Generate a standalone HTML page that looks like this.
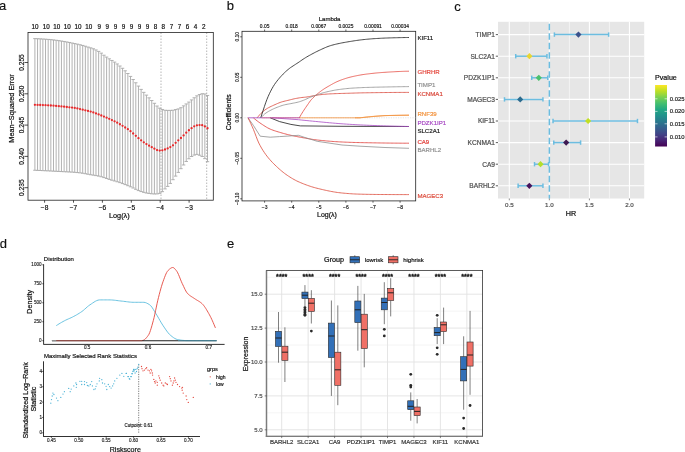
<!DOCTYPE html>
<html><head><meta charset="utf-8"><style>
html,body{margin:0;padding:0;background:#fff;}
body{width:685px;height:452px;overflow:hidden;}
svg{display:block;font-family:"Liberation Sans",sans-serif;will-change:transform;}
</style></head><body>
<svg width="685" height="452" viewBox="0 0 685 452">
<rect width="685" height="452" fill="#fff"/>
<text x="-1" y="10.4" font-size="13" fill="#111" stroke="#111" stroke-width="0.15">a</text>
<text x="226.8" y="10" font-size="13" fill="#111" stroke="#111" stroke-width="0.15">b</text>
<text x="454.2" y="10.5" font-size="13" fill="#111" stroke="#111" stroke-width="0.15">c</text>
<text x="-0.2" y="247.7" font-size="13" fill="#111" stroke="#111" stroke-width="0.15">d</text>
<text x="226.9" y="247.7" font-size="13" fill="#111" stroke="#111" stroke-width="0.15">e</text>
<path d="M34.9 38.62V170.26M33.2 38.62H36.6M33.2 170.26H36.6M37.56 38.71V170.38M35.86 38.71H39.26M35.86 170.38H39.26M40.21 38.84V170.5M38.51 38.84H41.91M38.51 170.5H41.91M42.87 39.01V170.63M41.17 39.01H44.57M41.17 170.63H44.57M45.52 39.2V170.76M43.82 39.2H47.22M43.82 170.76H47.22M48.18 39.41V170.89M46.48 39.41H49.88M46.48 170.89H49.88M50.83 39.64V171.02M49.13 39.64H52.53M49.13 171.02H52.53M53.49 39.91V171.16M51.79 39.91H55.19M51.79 171.16H55.19M56.14 40.25V171.3M54.44 40.25H57.84M54.44 171.3H57.84M58.8 40.63V171.44M57.1 40.63H60.5M57.1 171.44H60.5M61.45 41.04V171.58M59.75 41.04H63.16M59.75 171.58H63.16M64.11 41.47V171.72M62.41 41.47H65.81M62.41 171.72H65.81M66.77 41.95V171.85M65.07 41.95H68.47M65.07 171.85H68.47M69.42 42.48V171.99M67.72 42.48H71.12M67.72 171.99H71.12M72.08 43.03V172.14M70.38 43.03H73.78M70.38 172.14H73.78M74.73 43.58V172.34M73.03 43.58H76.43M73.03 172.34H76.43M77.39 44.14V172.58M75.69 44.14H79.09M75.69 172.58H79.09M80.04 44.74V172.87M78.34 44.74H81.74M78.34 172.87H81.74M82.7 45.43V173.24M81 45.43H84.4M81 173.24H84.4M85.35 46.23V173.73M83.65 46.23H87.05M83.65 173.73H87.05M88.01 47.05V174.26M86.31 47.05H89.71M86.31 174.26H89.71M90.67 47.85V174.74M88.97 47.85H92.37M88.97 174.74H92.37M93.32 48.77V175.17M91.62 48.77H95.02M91.62 175.17H95.02M95.98 49.95V175.61M94.28 49.95H97.68M94.28 175.61H97.68M98.63 51.38V176.11M96.93 51.38H100.33M96.93 176.11H100.33M101.29 53.14V176.76M99.59 53.14H102.99M99.59 176.76H102.99M103.94 55.22V177.58M102.24 55.22H105.64M102.24 177.58H105.64M106.6 57.07V178.49M104.9 57.07H108.3M104.9 178.49H108.3M109.25 58.82V179.4M107.55 58.82H110.95M107.55 179.4H110.95M111.91 60.48V180.22M110.21 60.48H113.61M110.21 180.22H113.61M114.56 62.11V180.99M112.86 62.11H116.27M112.86 180.99H116.27M117.22 63.96V181.78M115.52 63.96H118.92M115.52 181.78H118.92M119.88 66.01V182.62M118.18 66.01H121.58M118.18 182.62H121.58M122.53 68.28V183.57M120.83 68.28H124.23M120.83 183.57H124.23M125.19 70.8V184.6M123.49 70.8H126.89M123.49 184.6H126.89M127.84 73.5V185.69M126.14 73.5H129.54M126.14 185.69H129.54M130.5 76.41V186.81M128.8 76.41H132.2M128.8 186.81H132.2M133.15 79.5V188.03M131.45 79.5H134.85M131.45 188.03H134.85M135.81 82.75V189.34M134.11 82.75H137.51M134.11 189.34H137.51M138.46 86.08V190.58M136.76 86.08H140.16M136.76 190.58H140.16M141.12 89.4V191.57M139.42 89.4H142.82M139.42 191.57H142.82M143.78 92.36V192.37M142.08 92.36H145.48M142.08 192.37H145.48M146.43 95.11V193.03M144.73 95.11H148.13M144.73 193.03H148.13M149.09 97.84V193.45M147.39 97.84H150.79M147.39 193.45H150.79M151.74 100.53V193.79M150.04 100.53H153.44M150.04 193.79H153.44M154.4 103.3V193.99M152.7 103.3H156.1M152.7 193.99H156.1M157.05 106.04V193.92M155.35 106.04H158.75M155.35 193.92H158.75M159.71 108.11V193.35M158.01 108.11H161.41M158.01 193.35H161.41M162.36 109.46V191.65M160.66 109.46H164.06M160.66 191.65H164.06M165.02 110.27V188.91M163.32 110.27H166.72M163.32 188.91H166.72M167.68 110.38V186.4M165.98 110.38H169.38M165.98 186.4H169.38M170.33 110.39V183.42M168.63 110.39H172.03M168.63 183.42H172.03M172.99 110.24V179.7M171.29 110.24H174.69M171.29 179.7H174.69M175.64 109.59V176.12M173.94 109.59H177.34M173.94 176.12H177.34M178.3 108.91V172.41M176.6 108.91H180M176.6 172.41H180M180.95 107.71V168.68M179.25 107.71H182.65M179.25 168.68H182.65M183.61 105.87V164.98M181.91 105.87H185.31M181.91 164.98H185.31M186.26 103.95V161.48M184.56 103.95H187.96M184.56 161.48H187.96M188.92 102.08V158.78M187.22 102.08H190.62M187.22 158.78H190.62M191.57 99.93V156.5M189.87 99.93H193.27M189.87 156.5H193.27M194.23 97.78V155.09M192.53 97.78H195.93M192.53 155.09H195.93M196.89 95.85V154.4M195.19 95.85H198.59M195.19 154.4H198.59M199.54 94.55V155.25M197.84 94.55H201.24M197.84 155.25H201.24M202.2 93.72V156.46M200.5 93.72H203.9M200.5 156.46H203.9M204.85 93.95V158.64M203.15 93.95H206.55M203.15 158.64H206.55M207.51 95.46V161.66M205.81 95.46H209.21M205.81 161.66H209.21" stroke="#a9a9a9" stroke-width="0.9" fill="none"/>
<line x1="161" y1="32.5" x2="161" y2="200.2" stroke="#888" stroke-width="0.6" stroke-dasharray="1.5,1.5"/>
<line x1="206.7" y1="32.5" x2="206.7" y2="200.2" stroke="#888" stroke-width="0.6" stroke-dasharray="1.5,1.5"/>
<g fill="#e8282a"><circle cx="34.9" cy="104.81" r="1.15"/><circle cx="37.56" cy="104.88" r="1.15"/><circle cx="40.21" cy="104.98" r="1.15"/><circle cx="42.87" cy="105.09" r="1.15"/><circle cx="45.52" cy="105.21" r="1.15"/><circle cx="48.18" cy="105.35" r="1.15"/><circle cx="50.83" cy="105.52" r="1.15"/><circle cx="53.49" cy="105.7" r="1.15"/><circle cx="56.14" cy="105.9" r="1.15"/><circle cx="58.8" cy="106.14" r="1.15"/><circle cx="61.45" cy="106.41" r="1.15"/><circle cx="64.11" cy="106.7" r="1.15"/><circle cx="66.77" cy="107" r="1.15"/><circle cx="69.42" cy="107.29" r="1.15"/><circle cx="72.08" cy="107.59" r="1.15"/><circle cx="74.73" cy="107.96" r="1.15"/><circle cx="77.39" cy="108.45" r="1.15"/><circle cx="80.04" cy="109.06" r="1.15"/><circle cx="82.7" cy="109.71" r="1.15"/><circle cx="85.35" cy="110.32" r="1.15"/><circle cx="88.01" cy="110.93" r="1.15"/><circle cx="90.67" cy="111.62" r="1.15"/><circle cx="93.32" cy="112.45" r="1.15"/><circle cx="95.98" cy="113.41" r="1.15"/><circle cx="98.63" cy="114.42" r="1.15"/><circle cx="101.29" cy="115.49" r="1.15"/><circle cx="103.94" cy="116.57" r="1.15"/><circle cx="106.6" cy="117.69" r="1.15"/><circle cx="109.25" cy="118.83" r="1.15"/><circle cx="111.91" cy="120.03" r="1.15"/><circle cx="114.56" cy="121.32" r="1.15"/><circle cx="117.22" cy="122.71" r="1.15"/><circle cx="119.88" cy="124.23" r="1.15"/><circle cx="122.53" cy="125.86" r="1.15"/><circle cx="125.19" cy="127.51" r="1.15"/><circle cx="127.84" cy="129.22" r="1.15"/><circle cx="130.5" cy="131.22" r="1.15"/><circle cx="133.15" cy="133.48" r="1.15"/><circle cx="135.81" cy="135.78" r="1.15"/><circle cx="138.46" cy="138.14" r="1.15"/><circle cx="141.12" cy="140.29" r="1.15"/><circle cx="143.78" cy="142.29" r="1.15"/><circle cx="146.43" cy="144.06" r="1.15"/><circle cx="149.09" cy="145.65" r="1.15"/><circle cx="151.74" cy="147.2" r="1.15"/><circle cx="154.4" cy="148.69" r="1.15"/><circle cx="157.05" cy="150.11" r="1.15"/><circle cx="159.71" cy="150.58" r="1.15"/><circle cx="162.36" cy="150.34" r="1.15"/><circle cx="165.02" cy="149.52" r="1.15"/><circle cx="167.68" cy="148.45" r="1.15"/><circle cx="170.33" cy="147.1" r="1.15"/><circle cx="172.99" cy="145.31" r="1.15"/><circle cx="175.64" cy="142.87" r="1.15"/><circle cx="178.3" cy="140.37" r="1.15"/><circle cx="180.95" cy="138" r="1.15"/><circle cx="183.61" cy="135.4" r="1.15"/><circle cx="186.26" cy="132.71" r="1.15"/><circle cx="188.92" cy="130.26" r="1.15"/><circle cx="191.57" cy="128.19" r="1.15"/><circle cx="194.23" cy="126.31" r="1.15"/><circle cx="196.89" cy="125.28" r="1.15"/><circle cx="199.54" cy="125.05" r="1.15"/><circle cx="202.2" cy="125.15" r="1.15"/><circle cx="204.85" cy="126.39" r="1.15"/><circle cx="207.51" cy="128.27" r="1.15"/></g>
<rect x="28" y="32.5" width="185.3" height="167.7" fill="none" stroke="#222" stroke-width="0.8"/>
<line x1="24.5" y1="62.5" x2="28" y2="62.5" stroke="#222" stroke-width="0.8"/>
<text transform="translate(21.3,62.5) rotate(-90)" text-anchor="middle" dy="0.35em" font-size="6.6" fill="#111" stroke="#111" stroke-width="0.2">0.255</text>
<line x1="24.5" y1="93.8" x2="28" y2="93.8" stroke="#222" stroke-width="0.8"/>
<text transform="translate(21.3,93.8) rotate(-90)" text-anchor="middle" dy="0.35em" font-size="6.6" fill="#111" stroke="#111" stroke-width="0.2">0.250</text>
<line x1="24.5" y1="125.1" x2="28" y2="125.1" stroke="#222" stroke-width="0.8"/>
<text transform="translate(21.3,125.1) rotate(-90)" text-anchor="middle" dy="0.35em" font-size="6.6" fill="#111" stroke="#111" stroke-width="0.2">0.245</text>
<line x1="24.5" y1="156.4" x2="28" y2="156.4" stroke="#222" stroke-width="0.8"/>
<text transform="translate(21.3,156.4) rotate(-90)" text-anchor="middle" dy="0.35em" font-size="6.6" fill="#111" stroke="#111" stroke-width="0.2">0.240</text>
<line x1="24.5" y1="187.7" x2="28" y2="187.7" stroke="#222" stroke-width="0.8"/>
<text transform="translate(21.3,187.7) rotate(-90)" text-anchor="middle" dy="0.35em" font-size="6.6" fill="#111" stroke="#111" stroke-width="0.2">0.235</text>
<line x1="44.6" y1="200.2" x2="44.6" y2="202.7" stroke="#222" stroke-width="0.8"/>
<text x="44.6" y="207.8" text-anchor="middle" dy="0.35em" font-size="6.6" fill="#111" stroke="#111" stroke-width="0.2">−8</text>
<line x1="73.5" y1="200.2" x2="73.5" y2="202.7" stroke="#222" stroke-width="0.8"/>
<text x="73.5" y="207.8" text-anchor="middle" dy="0.35em" font-size="6.6" fill="#111" stroke="#111" stroke-width="0.2">−7</text>
<line x1="102.4" y1="200.2" x2="102.4" y2="202.7" stroke="#222" stroke-width="0.8"/>
<text x="102.4" y="207.8" text-anchor="middle" dy="0.35em" font-size="6.6" fill="#111" stroke="#111" stroke-width="0.2">−6</text>
<line x1="131.3" y1="200.2" x2="131.3" y2="202.7" stroke="#222" stroke-width="0.8"/>
<text x="131.3" y="207.8" text-anchor="middle" dy="0.35em" font-size="6.6" fill="#111" stroke="#111" stroke-width="0.2">−5</text>
<line x1="160.2" y1="200.2" x2="160.2" y2="202.7" stroke="#222" stroke-width="0.8"/>
<text x="160.2" y="207.8" text-anchor="middle" dy="0.35em" font-size="6.6" fill="#111" stroke="#111" stroke-width="0.2">−4</text>
<line x1="189.1" y1="200.2" x2="189.1" y2="202.7" stroke="#222" stroke-width="0.8"/>
<text x="189.1" y="207.8" text-anchor="middle" dy="0.35em" font-size="6.6" fill="#111" stroke="#111" stroke-width="0.2">−3</text>
<text x="119.3" y="215.5" text-anchor="middle" dy="0.35em" font-size="7.3" fill="#111" stroke="#111" stroke-width="0.22">Log(λ)</text>
<text transform="translate(11,108.5) rotate(-90)" text-anchor="middle" dy="0.35em" font-size="7.3" fill="#111" stroke="#111" stroke-width="0.22">Mean−Squared Error</text>
<text x="34.9" y="26.8" text-anchor="middle" dy="0.35em" font-size="6.3" fill="#111" stroke="#111" stroke-width="0.19">10</text>
<text x="46.2" y="26.8" text-anchor="middle" dy="0.35em" font-size="6.3" fill="#111" stroke="#111" stroke-width="0.19">10</text>
<text x="56.8" y="26.8" text-anchor="middle" dy="0.35em" font-size="6.3" fill="#111" stroke="#111" stroke-width="0.19">10</text>
<text x="67.3" y="26.8" text-anchor="middle" dy="0.35em" font-size="6.3" fill="#111" stroke="#111" stroke-width="0.19">10</text>
<text x="78" y="26.8" text-anchor="middle" dy="0.35em" font-size="6.3" fill="#111" stroke="#111" stroke-width="0.19">10</text>
<text x="88.7" y="26.8" text-anchor="middle" dy="0.35em" font-size="6.3" fill="#111" stroke="#111" stroke-width="0.19">10</text>
<text x="99.3" y="26.8" text-anchor="middle" dy="0.35em" font-size="6.3" fill="#111" stroke="#111" stroke-width="0.19">9</text>
<text x="107.3" y="26.8" text-anchor="middle" dy="0.35em" font-size="6.3" fill="#111" stroke="#111" stroke-width="0.19">9</text>
<text x="115.4" y="26.8" text-anchor="middle" dy="0.35em" font-size="6.3" fill="#111" stroke="#111" stroke-width="0.19">9</text>
<text x="123.5" y="26.8" text-anchor="middle" dy="0.35em" font-size="6.3" fill="#111" stroke="#111" stroke-width="0.19">9</text>
<text x="131.5" y="26.8" text-anchor="middle" dy="0.35em" font-size="6.3" fill="#111" stroke="#111" stroke-width="0.19">9</text>
<text x="139.4" y="26.8" text-anchor="middle" dy="0.35em" font-size="6.3" fill="#111" stroke="#111" stroke-width="0.19">9</text>
<text x="147.5" y="26.8" text-anchor="middle" dy="0.35em" font-size="6.3" fill="#111" stroke="#111" stroke-width="0.19">9</text>
<text x="155.4" y="26.8" text-anchor="middle" dy="0.35em" font-size="6.3" fill="#111" stroke="#111" stroke-width="0.19">8</text>
<text x="163.3" y="26.8" text-anchor="middle" dy="0.35em" font-size="6.3" fill="#111" stroke="#111" stroke-width="0.19">8</text>
<text x="171.5" y="26.8" text-anchor="middle" dy="0.35em" font-size="6.3" fill="#111" stroke="#111" stroke-width="0.19">7</text>
<text x="179.5" y="26.8" text-anchor="middle" dy="0.35em" font-size="6.3" fill="#111" stroke="#111" stroke-width="0.19">7</text>
<text x="187.6" y="26.8" text-anchor="middle" dy="0.35em" font-size="6.3" fill="#111" stroke="#111" stroke-width="0.19">6</text>
<text x="195.6" y="26.8" text-anchor="middle" dy="0.35em" font-size="6.3" fill="#111" stroke="#111" stroke-width="0.19">4</text>
<text x="203.8" y="26.8" text-anchor="middle" dy="0.35em" font-size="6.3" fill="#111" stroke="#111" stroke-width="0.19">2</text>
<rect x="242" y="31.3" width="173.7" height="169.6" fill="none" stroke="#222" stroke-width="0.8"/>
<line x1="240.2" y1="36.8" x2="242" y2="36.8" stroke="#222" stroke-width="0.7"/>
<text transform="translate(236.9,36.8) rotate(-90)" text-anchor="middle" dy="0.35em" font-size="4.9" fill="#111" stroke="#111" stroke-width="0.15">0.10</text>
<line x1="240.2" y1="77.3" x2="242" y2="77.3" stroke="#222" stroke-width="0.7"/>
<text transform="translate(236.9,77.3) rotate(-90)" text-anchor="middle" dy="0.35em" font-size="4.9" fill="#111" stroke="#111" stroke-width="0.15">0.05</text>
<line x1="240.2" y1="117.8" x2="242" y2="117.8" stroke="#222" stroke-width="0.7"/>
<text transform="translate(236.9,117.8) rotate(-90)" text-anchor="middle" dy="0.35em" font-size="4.9" fill="#111" stroke="#111" stroke-width="0.15">0.00</text>
<line x1="240.2" y1="158.3" x2="242" y2="158.3" stroke="#222" stroke-width="0.7"/>
<text transform="translate(236.9,158.3) rotate(-90)" text-anchor="middle" dy="0.35em" font-size="4.9" fill="#111" stroke="#111" stroke-width="0.15">−0.05</text>
<line x1="240.2" y1="198.8" x2="242" y2="198.8" stroke="#222" stroke-width="0.7"/>
<text transform="translate(236.9,198.8) rotate(-90)" text-anchor="middle" dy="0.35em" font-size="4.9" fill="#111" stroke="#111" stroke-width="0.15">−0.10</text>
<line x1="264.6" y1="200.9" x2="264.6" y2="202.7" stroke="#222" stroke-width="0.7"/>
<line x1="264.6" y1="29.5" x2="264.6" y2="31.3" stroke="#222" stroke-width="0.7"/>
<text x="264.6" y="207.5" text-anchor="middle" dy="0.35em" font-size="5" fill="#111" stroke="#111" stroke-width="0.15">−3</text>
<text x="264.6" y="26.2" text-anchor="middle" dy="0.35em" font-size="4.9" fill="#111" stroke="#111" stroke-width="0.15">0.05</text>
<line x1="291.7" y1="200.9" x2="291.7" y2="202.7" stroke="#222" stroke-width="0.7"/>
<line x1="291.7" y1="29.5" x2="291.7" y2="31.3" stroke="#222" stroke-width="0.7"/>
<text x="291.7" y="207.5" text-anchor="middle" dy="0.35em" font-size="5" fill="#111" stroke="#111" stroke-width="0.15">−4</text>
<text x="291.7" y="26.2" text-anchor="middle" dy="0.35em" font-size="4.9" fill="#111" stroke="#111" stroke-width="0.15">0.018</text>
<line x1="318.8" y1="200.9" x2="318.8" y2="202.7" stroke="#222" stroke-width="0.7"/>
<line x1="318.8" y1="29.5" x2="318.8" y2="31.3" stroke="#222" stroke-width="0.7"/>
<text x="318.8" y="207.5" text-anchor="middle" dy="0.35em" font-size="5" fill="#111" stroke="#111" stroke-width="0.15">−5</text>
<text x="318.8" y="26.2" text-anchor="middle" dy="0.35em" font-size="4.9" fill="#111" stroke="#111" stroke-width="0.15">0.0067</text>
<line x1="345.9" y1="200.9" x2="345.9" y2="202.7" stroke="#222" stroke-width="0.7"/>
<line x1="345.9" y1="29.5" x2="345.9" y2="31.3" stroke="#222" stroke-width="0.7"/>
<text x="345.9" y="207.5" text-anchor="middle" dy="0.35em" font-size="5" fill="#111" stroke="#111" stroke-width="0.15">−6</text>
<text x="345.9" y="26.2" text-anchor="middle" dy="0.35em" font-size="4.9" fill="#111" stroke="#111" stroke-width="0.15">0.0025</text>
<line x1="373" y1="200.9" x2="373" y2="202.7" stroke="#222" stroke-width="0.7"/>
<line x1="373" y1="29.5" x2="373" y2="31.3" stroke="#222" stroke-width="0.7"/>
<text x="373" y="207.5" text-anchor="middle" dy="0.35em" font-size="5" fill="#111" stroke="#111" stroke-width="0.15">−7</text>
<text x="373" y="26.2" text-anchor="middle" dy="0.35em" font-size="4.9" fill="#111" stroke="#111" stroke-width="0.15">0.00091</text>
<line x1="400.1" y1="200.9" x2="400.1" y2="202.7" stroke="#222" stroke-width="0.7"/>
<line x1="400.1" y1="29.5" x2="400.1" y2="31.3" stroke="#222" stroke-width="0.7"/>
<text x="400.1" y="207.5" text-anchor="middle" dy="0.35em" font-size="5" fill="#111" stroke="#111" stroke-width="0.15">−8</text>
<text x="400.1" y="26.2" text-anchor="middle" dy="0.35em" font-size="4.9" fill="#111" stroke="#111" stroke-width="0.15">0.00034</text>
<text x="329.6" y="18.5" text-anchor="middle" dy="0.35em" font-size="6" fill="#111" stroke="#111" stroke-width="0.18">Lambda</text>
<text x="327" y="215" text-anchor="middle" dy="0.35em" font-size="7" fill="#111" stroke="#111" stroke-width="0.21">Log(λ)</text>
<text transform="translate(228.8,112.3) rotate(-90)" text-anchor="middle" dy="0.35em" font-size="6.9" fill="#111" stroke="#111" stroke-width="0.21">Coefficients</text>
<line x1="242" y1="117.8" x2="415.7" y2="117.8" stroke="#c8c8c8" stroke-width="0.5" stroke-dasharray="1.2,1.2"/>
<polyline points="360,117.8 360.41,117.75 360.82,117.7 361.24,117.64 361.65,117.59 362.06,117.54 362.47,117.49 362.88,117.44 363.29,117.4 363.71,117.35 364.12,117.3 364.53,117.25 364.94,117.2 365.35,117.16 365.76,117.11 366.18,117.07 366.59,117.02 367,116.98 367.41,116.94 367.82,116.89 368.24,116.85 368.65,116.81 369.06,116.77 369.47,116.73 369.88,116.69 370.29,116.65 370.71,116.61 371.12,116.58 371.53,116.54 371.94,116.5 372.35,116.47 372.76,116.43 373.18,116.4 373.59,116.36 374,116.33 374.41,116.29 374.82,116.26 375.24,116.22 375.65,116.19 376.06,116.15 376.47,116.12 376.88,116.09 377.29,116.05 377.71,116.02 378.12,115.99 378.53,115.96 378.94,115.93 379.35,115.9 379.76,115.87 380.18,115.84 380.59,115.81 381,115.79 381.41,115.76 381.82,115.74 382.24,115.71 382.65,115.69 383.06,115.67 383.47,115.66 383.88,115.64 384.29,115.62 384.71,115.61 385.12,115.6 385.53,115.58 385.94,115.57 386.35,115.56 386.76,115.55 387.18,115.54 387.59,115.53 388,115.52 388.41,115.51 388.82,115.5 389.24,115.48 389.65,115.47 390.06,115.46 390.47,115.45 390.88,115.44 391.29,115.43 391.71,115.42 392.12,115.41 392.53,115.41 392.94,115.4 393.35,115.39 393.76,115.38 394.18,115.37 394.59,115.36 395,115.35 395.41,115.34 395.82,115.34 396.24,115.33 396.65,115.32 397.06,115.31 397.47,115.31 397.88,115.3 398.29,115.29 398.71,115.29 399.12,115.28 399.53,115.27 399.94,115.27 400.35,115.26 400.76,115.26 401.18,115.25 401.59,115.25 402,115.24 402.41,115.24 402.82,115.23 403.24,115.23 403.65,115.22 404.06,115.22 404.47,115.22 404.88,115.21 405.29,115.21 405.71,115.21 406.12,115.21 406.53,115.21 406.94,115.2 407.35,115.2 407.76,115.2 408.18,115.2 408.59,115.2 409,115.2" fill="none" stroke="#f2923c" stroke-width="0.8" stroke-linejoin="round"/>
<polyline points="299.3,117.8 300.22,116.18 301.14,114.61 302.07,113.08 302.99,111.59 303.91,110.16 304.83,108.77 305.75,107.42 306.67,106.09 307.6,104.77 308.52,103.43 309.44,102.09 310.36,100.83 311.28,99.7 312.21,98.69 313.13,97.75 314.05,96.87 314.97,96.02 315.89,95.21 316.82,94.42 317.74,93.64 318.66,92.88 319.58,92.15 320.5,91.44 321.42,90.75 322.35,90.09 323.27,89.45 324.19,88.84 325.11,88.26 326.03,87.69 326.96,87.14 327.88,86.6 328.8,86.07 329.72,85.55 330.64,85.02 331.56,84.49 332.49,83.97 333.41,83.46 334.33,82.97 335.25,82.5 336.17,82.05 337.1,81.63 338.02,81.23 338.94,80.85 339.86,80.48 340.78,80.13 341.71,79.79 342.63,79.46 343.55,79.15 344.47,78.83 345.39,78.53 346.31,78.24 347.24,77.95 348.16,77.69 349.08,77.43 350,77.2 350.92,76.98 351.85,76.76 352.77,76.55 353.69,76.34 354.61,76.14 355.53,75.94 356.45,75.75 357.38,75.57 358.3,75.39 359.22,75.22 360.14,75.05 361.06,74.9 361.99,74.74 362.91,74.6 363.83,74.46 364.75,74.33 365.67,74.21 366.59,74.09 367.52,73.97 368.44,73.86 369.36,73.75 370.28,73.64 371.2,73.53 372.13,73.43 373.05,73.33 373.97,73.23 374.89,73.14 375.81,73.04 376.74,72.95 377.66,72.87 378.58,72.79 379.5,72.71 380.42,72.63 381.34,72.56 382.27,72.49 383.19,72.42 384.11,72.36 385.03,72.3 385.95,72.24 386.88,72.18 387.8,72.12 388.72,72.07 389.64,72.01 390.56,71.96 391.48,71.9 392.41,71.85 393.33,71.8 394.25,71.75 395.17,71.7 396.09,71.65 397.02,71.61 397.94,71.56 398.86,71.52 399.78,71.48 400.7,71.44 401.63,71.41 402.55,71.37 403.47,71.34 404.39,71.31 405.31,71.28 406.23,71.26 407.16,71.24 408.08,71.22 409,71.2" fill="none" stroke="#e4473d" stroke-width="0.8" stroke-linejoin="round"/>
<polyline points="270.2,117.8 279.6,121.6 290.9,124.4 300.3,125.9 342,126.3 409,126.5" fill="none" stroke="#1a1a1a" stroke-width="0.8" stroke-linejoin="round"/>
<polyline points="272,117.8 298.4,119.7 301.24,120 304.07,120.3 306.91,120.59 309.74,120.87 312.58,121.15 315.42,121.43 318.25,121.7 321.09,121.97 323.92,122.24 326.76,122.51 329.59,122.77 332.43,123.03 335.27,123.27 338.1,123.5 340.94,123.72 343.77,123.93 346.61,124.12 349.45,124.3 352.28,124.48 355.12,124.64 357.95,124.8 360.79,124.94 363.63,125.07 366.46,125.2 369.3,125.32 372.13,125.44 374.97,125.55 377.81,125.66 380.64,125.76 383.48,125.85 386.31,125.94 389.15,126.02 391.98,126.11 394.82,126.18 397.66,126.26 400.49,126.32 403.33,126.39 406.16,126.45 409,126.5" fill="none" stroke="#a84bc4" stroke-width="0.8" stroke-linejoin="round"/>
<polyline points="257.2,117.8 258.48,116.19 259.75,114.7 261.03,113.35 262.3,112.15 263.58,111.06 264.85,110.06 266.13,109.15 267.41,108.34 268.68,107.61 269.96,106.94 271.23,106.33 272.51,105.74 273.78,105.17 275.06,104.6 276.33,104.03 277.61,103.48 278.89,102.94 280.16,102.45 281.44,102.02 282.71,101.64 283.99,101.3 285.26,100.99 286.54,100.69 287.82,100.39 289.09,100.08 290.37,99.75 291.64,99.43 292.92,99.11 294.19,98.81 295.47,98.54 296.74,98.31 298.02,98.08 299.3,97.87 300.57,97.67 301.85,97.5 303.12,97.36 304.4,97.25 305.67,97.14 306.95,96.98 308.23,96.78 309.5,96.55 310.78,96.29 312.05,96.03 313.33,95.77 314.6,95.53 315.88,95.31 317.15,95.12 318.43,94.95 319.71,94.78 320.98,94.63 322.26,94.49 323.53,94.37 324.81,94.25 326.08,94.15 327.36,94.05 328.64,93.97 329.91,93.89 331.19,93.83 332.46,93.77 333.74,93.72 335.01,93.67 336.29,93.62 337.56,93.57 338.84,93.53 340.12,93.49 341.39,93.45 342.67,93.41 343.94,93.38 345.22,93.34 346.49,93.3 347.77,93.27 349.05,93.23 350.32,93.19 351.6,93.15 352.87,93.11 354.15,93.07 355.42,93.03 356.7,92.99 357.97,92.96 359.25,92.92 360.53,92.89 361.8,92.86 363.08,92.83 364.35,92.81 365.63,92.79 366.9,92.77 368.18,92.75 369.46,92.74 370.73,92.72 372.01,92.7 373.28,92.68 374.56,92.67 375.83,92.65 377.11,92.63 378.38,92.62 379.66,92.6 380.94,92.58 382.21,92.57 383.49,92.56 384.76,92.54 386.04,92.53 387.31,92.52 388.59,92.5 389.87,92.49 391.14,92.48 392.42,92.47 393.69,92.46 394.97,92.45 396.24,92.44 397.52,92.43 398.79,92.43 400.07,92.42 401.35,92.42 402.62,92.41 403.9,92.41 405.17,92.4 406.45,92.4 407.72,92.4 409,92.4" fill="none" stroke="#d9483b" stroke-width="0.8" stroke-linejoin="round"/>
<polyline points="261,117.8 262.24,116.33 263.49,115.01 264.73,113.92 265.97,113 267.22,112.19 268.46,111.45 269.71,110.76 270.95,110.11 272.19,109.48 273.44,108.89 274.68,108.34 275.92,107.81 277.17,107.31 278.41,106.83 279.66,106.37 280.9,105.92 282.14,105.51 283.39,105.14 284.63,104.82 285.87,104.54 287.12,104.3 288.36,104.07 289.61,103.84 290.85,103.61 292.09,103.36 293.34,103.12 294.58,102.88 295.82,102.62 297.07,102.35 298.31,102.05 299.55,101.7 300.8,101.29 302.04,100.84 303.29,100.37 304.53,99.85 305.77,99.3 307.02,98.73 308.26,98.14 309.5,97.57 310.75,97.06 311.99,96.6 313.24,96.15 314.48,95.72 315.72,95.3 316.97,94.87 318.21,94.44 319.45,94 320.7,93.58 321.94,93.17 323.18,92.8 324.43,92.47 325.67,92.15 326.92,91.85 328.16,91.56 329.4,91.29 330.65,91.02 331.89,90.75 333.13,90.5 334.38,90.26 335.62,90.04 336.87,89.84 338.11,89.66 339.35,89.48 340.6,89.31 341.84,89.15 343.08,88.99 344.33,88.84 345.57,88.7 346.82,88.58 348.06,88.46 349.3,88.35 350.55,88.26 351.79,88.17 353.03,88.09 354.28,88.01 355.52,87.94 356.76,87.87 358.01,87.8 359.25,87.74 360.5,87.68 361.74,87.63 362.98,87.57 364.23,87.53 365.47,87.48 366.71,87.44 367.96,87.4 369.2,87.37 370.45,87.33 371.69,87.3 372.93,87.26 374.18,87.23 375.42,87.2 376.66,87.18 377.91,87.15 379.15,87.12 380.39,87.09 381.64,87.07 382.88,87.04 384.13,87.02 385.37,86.99 386.61,86.97 387.86,86.94 389.1,86.92 390.34,86.9 391.59,86.87 392.83,86.85 394.08,86.83 395.32,86.8 396.56,86.78 397.81,86.76 399.05,86.74 400.29,86.72 401.54,86.7 402.78,86.68 404.03,86.67 405.27,86.65 406.51,86.63 407.76,86.62 409,86.6" fill="none" stroke="#8f8f8f" stroke-width="0.8" stroke-linejoin="round"/>
<polyline points="253.3,117.8 254.61,118.88 255.92,119.92 257.23,120.94 258.53,121.91 259.84,122.84 261.15,123.74 262.46,124.61 263.77,125.48 265.08,126.32 266.38,127.11 267.69,127.86 269,128.54 270.31,129.15 271.62,129.68 272.93,130.18 274.23,130.64 275.54,131.06 276.85,131.47 278.16,131.87 279.47,132.26 280.78,132.65 282.08,133.03 283.39,133.4 284.7,133.75 286.01,134.1 287.32,134.44 288.63,134.76 289.94,135.08 291.24,135.38 292.55,135.67 293.86,135.95 295.17,136.22 296.48,136.49 297.79,136.75 299.09,137 300.4,137.25 301.71,137.49 303.02,137.73 304.33,137.96 305.64,138.19 306.94,138.42 308.25,138.66 309.56,138.88 310.87,139.1 312.18,139.32 313.49,139.52 314.79,139.7 316.1,139.87 317.41,140.02 318.72,140.17 320.03,140.3 321.34,140.44 322.65,140.57 323.95,140.7 325.26,140.82 326.57,140.94 327.88,141.06 329.19,141.17 330.5,141.27 331.8,141.37 333.11,141.47 334.42,141.56 335.73,141.65 337.04,141.73 338.35,141.81 339.65,141.88 340.96,141.95 342.27,142.01 343.58,142.07 344.89,142.13 346.2,142.18 347.51,142.23 348.81,142.28 350.12,142.33 351.43,142.37 352.74,142.42 354.05,142.46 355.36,142.49 356.66,142.53 357.97,142.56 359.28,142.59 360.59,142.61 361.9,142.64 363.21,142.66 364.51,142.69 365.82,142.71 367.13,142.73 368.44,142.76 369.75,142.78 371.06,142.81 372.36,142.83 373.67,142.85 374.98,142.87 376.29,142.89 377.6,142.92 378.91,142.94 380.22,142.96 381.52,142.98 382.83,142.99 384.14,143.01 385.45,143.03 386.76,143.05 388.07,143.06 389.37,143.08 390.68,143.09 391.99,143.11 393.3,143.12 394.61,143.13 395.92,143.14 397.22,143.15 398.53,143.16 399.84,143.17 401.15,143.18 402.46,143.19 403.77,143.19 405.07,143.19 406.38,143.2 407.69,143.2 409,143.2" fill="none" stroke="#e03b36" stroke-width="0.8" stroke-linejoin="round"/>
<polyline points="248,117.8 253.3,125.3 260.2,136.2 270.2,137.2 279.6,136.6 289,136 298.4,135.3 304,137.2 317.2,141.3 342,145 360,146.2 385,147.5 409,148.3" fill="none" stroke="#8f8f8f" stroke-width="0.8" stroke-linejoin="round"/>
<polyline points="248,117.8 249.35,120.5 250.71,123.33 252.06,126.28 253.41,129.36 254.76,132.77 256.12,136.41 257.47,139.96 258.82,143.05 260.18,145.66 261.53,148.07 262.88,150.3 264.24,152.37 265.59,154.3 266.94,156.11 268.29,157.81 269.65,159.41 271,160.93 272.35,162.37 273.71,163.76 275.06,165.09 276.41,166.38 277.76,167.64 279.12,168.87 280.47,170.05 281.82,171.2 283.18,172.3 284.53,173.35 285.88,174.35 287.24,175.29 288.59,176.2 289.94,177.07 291.29,177.91 292.65,178.72 294,179.49 295.35,180.22 296.71,180.91 298.06,181.55 299.41,182.15 300.76,182.73 302.12,183.29 303.47,183.84 304.82,184.36 306.18,184.87 307.53,185.36 308.88,185.84 310.24,186.29 311.59,186.72 312.94,187.13 314.29,187.53 315.65,187.9 317,188.25 318.35,188.59 319.71,188.92 321.06,189.24 322.41,189.56 323.76,189.87 325.12,190.18 326.47,190.47 327.82,190.76 329.18,191.04 330.53,191.3 331.88,191.56 333.24,191.8 334.59,192.02 335.94,192.24 337.29,192.44 338.65,192.62 340,192.79 341.35,192.93 342.71,193.07 344.06,193.2 345.41,193.32 346.76,193.43 348.12,193.54 349.47,193.65 350.82,193.74 352.18,193.83 353.53,193.91 354.88,193.98 356.24,194.04 357.59,194.09 358.94,194.13 360.29,194.17 361.65,194.2 363,194.24 364.35,194.27 365.71,194.3 367.06,194.33 368.41,194.35 369.76,194.38 371.12,194.4 372.47,194.42 373.82,194.44 375.18,194.46 376.53,194.47 377.88,194.48 379.24,194.5 380.59,194.5 381.94,194.51 383.29,194.52 384.65,194.53 386,194.53 387.35,194.54 388.71,194.55 390.06,194.55 391.41,194.56 392.76,194.57 394.12,194.57 395.47,194.58 396.82,194.58 398.18,194.58 399.53,194.59 400.88,194.59 402.24,194.59 403.59,194.6 404.94,194.6 406.29,194.6 407.65,194.6 409,194.6" fill="none" stroke="#dc4a3a" stroke-width="0.8" stroke-linejoin="round"/>
<polyline points="260.7,117.8 261.95,114 263.19,110.22 264.44,106.43 265.68,102.82 266.93,99.43 268.18,96.42 269.42,93.69 270.67,91.17 271.92,88.78 273.16,86.58 274.41,84.61 275.65,82.83 276.9,81.18 278.15,79.62 279.39,78.14 280.64,76.74 281.89,75.39 283.13,74.09 284.38,72.85 285.62,71.67 286.87,70.55 288.12,69.49 289.36,68.48 290.61,67.56 291.86,66.72 293.1,65.91 294.35,65.1 295.59,64.29 296.84,63.49 298.09,62.68 299.33,61.83 300.58,60.96 301.83,60.09 303.07,59.26 304.32,58.45 305.56,57.67 306.81,56.91 308.06,56.19 309.3,55.48 310.55,54.8 311.79,54.13 313.04,53.47 314.29,52.81 315.53,52.17 316.78,51.54 318.03,50.93 319.27,50.34 320.52,49.76 321.76,49.18 323.01,48.61 324.26,48.04 325.5,47.5 326.75,46.98 328,46.49 329.24,46.05 330.49,45.65 331.73,45.28 332.98,44.94 334.23,44.61 335.47,44.31 336.72,44.01 337.97,43.74 339.21,43.47 340.46,43.21 341.7,42.95 342.95,42.72 344.2,42.49 345.44,42.27 346.69,42.05 347.94,41.84 349.18,41.63 350.43,41.43 351.67,41.23 352.92,41.02 354.17,40.82 355.41,40.63 356.66,40.44 357.91,40.27 359.15,40.1 360.4,39.95 361.64,39.81 362.89,39.67 364.14,39.54 365.38,39.41 366.63,39.28 367.87,39.16 369.12,39.05 370.37,38.94 371.61,38.84 372.86,38.74 374.11,38.66 375.35,38.58 376.6,38.5 377.84,38.43 379.09,38.36 380.34,38.3 381.58,38.23 382.83,38.17 384.08,38.12 385.32,38.06 386.57,38.02 387.81,37.97 389.06,37.93 390.31,37.89 391.55,37.85 392.8,37.82 394.05,37.78 395.29,37.75 396.54,37.72 397.78,37.69 399.03,37.66 400.28,37.63 401.52,37.6 402.77,37.58 404.02,37.56 405.26,37.54 406.51,37.52 407.75,37.51 409,37.5" fill="none" stroke="#1a1a1a" stroke-width="0.8" stroke-linejoin="round"/>
<line x1="248" y1="117.8" x2="300" y2="117.8" stroke="#a84bc4" stroke-width="0.8"/>
<line x1="262" y1="117.8" x2="300" y2="117.8" stroke="#e4473d" stroke-width="0.8" stroke-opacity="0.45"/>
<line x1="300" y1="117.8" x2="360" y2="117.8" stroke="#f2923c" stroke-width="0.8"/>
<polyline points="355,117.8 360,117.8 372,116.6 385,115.6 409,115.2" fill="none" stroke="#f2923c" stroke-width="0.8" stroke-linejoin="round"/>
<text x="417.4" y="37.6" text-anchor="start" dy="0.35em" font-size="6.1" fill="#1a1a1a" stroke="#1a1a1a" stroke-width="0.18">KIF11</text>
<text x="417.4" y="71.4" text-anchor="start" dy="0.35em" font-size="6.1" fill="#e4473d" stroke="#e4473d" stroke-width="0.18">GHRHR</text>
<text x="417.4" y="85.2" text-anchor="start" dy="0.35em" font-size="6.1" fill="#8f8f8f" stroke="#8f8f8f" stroke-width="0.18">TIMP1</text>
<text x="417.4" y="93.8" text-anchor="start" dy="0.35em" font-size="6.1" fill="#d9483b" stroke="#d9483b" stroke-width="0.18">KCNMA1</text>
<text x="417.4" y="114.2" text-anchor="start" dy="0.35em" font-size="6.1" fill="#f2923c" stroke="#f2923c" stroke-width="0.18">RNF39</text>
<text x="417.4" y="122.6" text-anchor="start" dy="0.35em" font-size="6.1" fill="#a84bc4" stroke="#a84bc4" stroke-width="0.18">PDZK1IP1</text>
<text x="417.4" y="130.5" text-anchor="start" dy="0.35em" font-size="6.1" fill="#1a1a1a" stroke="#1a1a1a" stroke-width="0.18">SLC2A1</text>
<text x="417.4" y="142.3" text-anchor="start" dy="0.35em" font-size="6.1" fill="#e03b36" stroke="#e03b36" stroke-width="0.18">CA9</text>
<text x="417.4" y="150.3" text-anchor="start" dy="0.35em" font-size="6.1" fill="#8f8f8f" stroke="#8f8f8f" stroke-width="0.18">BARHL2</text>
<text x="417.4" y="196.1" text-anchor="start" dy="0.35em" font-size="6.1" fill="#dc4a3a" stroke="#dc4a3a" stroke-width="0.18">MAGEC3</text>
<rect x="498" y="21.8" width="146.2" height="176.7" fill="#e6e6e6"/>
<line x1="529.33" y1="21.8" x2="529.33" y2="198.5" stroke="#fff" stroke-width="0.55"/>
<line x1="569.38" y1="21.8" x2="569.38" y2="198.5" stroke="#fff" stroke-width="0.55"/>
<line x1="609.42" y1="21.8" x2="609.42" y2="198.5" stroke="#fff" stroke-width="0.55"/>
<line x1="509.3" y1="21.8" x2="509.3" y2="198.5" stroke="#fff" stroke-width="1.1"/>
<line x1="549.35" y1="21.8" x2="549.35" y2="198.5" stroke="#fff" stroke-width="1.1"/>
<line x1="589.4" y1="21.8" x2="589.4" y2="198.5" stroke="#fff" stroke-width="1.1"/>
<line x1="629.45" y1="21.8" x2="629.45" y2="198.5" stroke="#fff" stroke-width="1.1"/>
<line x1="498" y1="34.6" x2="644.2" y2="34.6" stroke="#fff" stroke-width="1.1"/>
<line x1="498" y1="56.2" x2="644.2" y2="56.2" stroke="#fff" stroke-width="1.1"/>
<line x1="498" y1="77.8" x2="644.2" y2="77.8" stroke="#fff" stroke-width="1.1"/>
<line x1="498" y1="99.4" x2="644.2" y2="99.4" stroke="#fff" stroke-width="1.1"/>
<line x1="498" y1="121" x2="644.2" y2="121" stroke="#fff" stroke-width="1.1"/>
<line x1="498" y1="142.6" x2="644.2" y2="142.6" stroke="#fff" stroke-width="1.1"/>
<line x1="498" y1="164.2" x2="644.2" y2="164.2" stroke="#fff" stroke-width="1.1"/>
<line x1="498" y1="185.8" x2="644.2" y2="185.8" stroke="#fff" stroke-width="1.1"/>
<line x1="549.35" y1="21.8" x2="549.35" y2="198.5" stroke="#6cbde0" stroke-width="1.5" stroke-dasharray="6.5,3" stroke-dashoffset="-2"/>
<line x1="554.4" y1="34.6" x2="608.62" y2="34.6" stroke="#6cbde0" stroke-width="1.5"/>
<line x1="554.4" y1="32.4" x2="554.4" y2="36.8" stroke="#6cbde0" stroke-width="1.5"/>
<line x1="608.62" y1="32.4" x2="608.62" y2="36.8" stroke="#6cbde0" stroke-width="1.5"/>
<path d="M578.43 31.5L581.53 34.6L578.43 37.7L575.33 34.6Z" fill="#3b528b"/>
<line x1="495.8" y1="34.6" x2="498" y2="34.6" stroke="#333" stroke-width="0.8"/>
<text x="495" y="34.6" text-anchor="end" dy="0.35em" font-size="6.6" fill="#4d4d4d" stroke="#4d4d4d" stroke-width="0.2">TIMP1</text>
<line x1="515.71" y1="56.2" x2="546.95" y2="56.2" stroke="#6cbde0" stroke-width="1.5"/>
<line x1="515.71" y1="54" x2="515.71" y2="58.4" stroke="#6cbde0" stroke-width="1.5"/>
<line x1="546.95" y1="54" x2="546.95" y2="58.4" stroke="#6cbde0" stroke-width="1.5"/>
<path d="M529.41 53.1L532.51 56.2L529.41 59.3L526.31 56.2Z" fill="#e8d632"/>
<line x1="495.8" y1="56.2" x2="498" y2="56.2" stroke="#333" stroke-width="0.8"/>
<text x="495" y="56.2" text-anchor="end" dy="0.35em" font-size="6.6" fill="#4d4d4d" stroke="#4d4d4d" stroke-width="0.2">SLC2A1</text>
<line x1="531.73" y1="77.8" x2="547.75" y2="77.8" stroke="#6cbde0" stroke-width="1.5"/>
<line x1="531.73" y1="75.6" x2="531.73" y2="80" stroke="#6cbde0" stroke-width="1.5"/>
<line x1="547.75" y1="75.6" x2="547.75" y2="80" stroke="#6cbde0" stroke-width="1.5"/>
<path d="M538.78 74.7L541.88 77.8L538.78 80.9L535.68 77.8Z" fill="#4ac16d"/>
<line x1="495.8" y1="77.8" x2="498" y2="77.8" stroke="#333" stroke-width="0.8"/>
<text x="495" y="77.8" text-anchor="end" dy="0.35em" font-size="6.6" fill="#4d4d4d" stroke="#4d4d4d" stroke-width="0.2">PDZK1IP1</text>
<line x1="504.49" y1="99.4" x2="542.94" y2="99.4" stroke="#6cbde0" stroke-width="1.5"/>
<line x1="504.49" y1="97.2" x2="504.49" y2="101.6" stroke="#6cbde0" stroke-width="1.5"/>
<line x1="542.94" y1="97.2" x2="542.94" y2="101.6" stroke="#6cbde0" stroke-width="1.5"/>
<path d="M520.19 96.3L523.29 99.4L520.19 102.5L517.09 99.4Z" fill="#2c6b8e"/>
<line x1="495.8" y1="99.4" x2="498" y2="99.4" stroke="#333" stroke-width="0.8"/>
<text x="495" y="99.4" text-anchor="end" dy="0.35em" font-size="6.6" fill="#4d4d4d" stroke="#4d4d4d" stroke-width="0.2">MAGEC3</text>
<line x1="553.03" y1="121" x2="637.46" y2="121" stroke="#6cbde0" stroke-width="1.5"/>
<line x1="553.03" y1="118.8" x2="553.03" y2="123.2" stroke="#6cbde0" stroke-width="1.5"/>
<line x1="637.46" y1="118.8" x2="637.46" y2="123.2" stroke="#6cbde0" stroke-width="1.5"/>
<path d="M588.12 117.9L591.22 121L588.12 124.1L585.02 121Z" fill="#c2df23"/>
<line x1="495.8" y1="121" x2="498" y2="121" stroke="#333" stroke-width="0.8"/>
<text x="495" y="121" text-anchor="end" dy="0.35em" font-size="6.6" fill="#4d4d4d" stroke="#4d4d4d" stroke-width="0.2">KIF11</text>
<line x1="553.76" y1="142.6" x2="580.59" y2="142.6" stroke="#6cbde0" stroke-width="1.5"/>
<line x1="553.76" y1="140.4" x2="553.76" y2="144.8" stroke="#6cbde0" stroke-width="1.5"/>
<line x1="580.59" y1="140.4" x2="580.59" y2="144.8" stroke="#6cbde0" stroke-width="1.5"/>
<path d="M566.17 139.5L569.27 142.6L566.17 145.7L563.07 142.6Z" fill="#3f1a52"/>
<line x1="495.8" y1="142.6" x2="498" y2="142.6" stroke="#333" stroke-width="0.8"/>
<text x="495" y="142.6" text-anchor="end" dy="0.35em" font-size="6.6" fill="#4d4d4d" stroke="#4d4d4d" stroke-width="0.2">KCNMA1</text>
<line x1="534.53" y1="164.2" x2="548.55" y2="164.2" stroke="#6cbde0" stroke-width="1.5"/>
<line x1="534.53" y1="162" x2="534.53" y2="166.4" stroke="#6cbde0" stroke-width="1.5"/>
<line x1="548.55" y1="162" x2="548.55" y2="166.4" stroke="#6cbde0" stroke-width="1.5"/>
<path d="M540.54 161.1L543.64 164.2L540.54 167.3L537.44 164.2Z" fill="#b5de2b"/>
<line x1="495.8" y1="164.2" x2="498" y2="164.2" stroke="#333" stroke-width="0.8"/>
<text x="495" y="164.2" text-anchor="end" dy="0.35em" font-size="6.6" fill="#4d4d4d" stroke="#4d4d4d" stroke-width="0.2">CA9</text>
<line x1="518.11" y1="185.8" x2="542.94" y2="185.8" stroke="#6cbde0" stroke-width="1.5"/>
<line x1="518.11" y1="183.6" x2="518.11" y2="188" stroke="#6cbde0" stroke-width="1.5"/>
<line x1="542.94" y1="183.6" x2="542.94" y2="188" stroke="#6cbde0" stroke-width="1.5"/>
<path d="M529.33 182.7L532.43 185.8L529.33 188.9L526.23 185.8Z" fill="#45135c"/>
<line x1="495.8" y1="185.8" x2="498" y2="185.8" stroke="#333" stroke-width="0.8"/>
<text x="495" y="185.8" text-anchor="end" dy="0.35em" font-size="6.6" fill="#4d4d4d" stroke="#4d4d4d" stroke-width="0.2">BARHL2</text>
<line x1="509.3" y1="198.5" x2="509.3" y2="200.3" stroke="#444" stroke-width="0.6"/>
<text x="509.3" y="204.6" text-anchor="middle" dy="0.35em" font-size="6.2" fill="#4d4d4d" stroke="#4d4d4d" stroke-width="0.19">0.5</text>
<line x1="549.35" y1="198.5" x2="549.35" y2="200.3" stroke="#444" stroke-width="0.6"/>
<text x="549.35" y="204.6" text-anchor="middle" dy="0.35em" font-size="6.2" fill="#4d4d4d" stroke="#4d4d4d" stroke-width="0.19">1.0</text>
<line x1="589.4" y1="198.5" x2="589.4" y2="200.3" stroke="#444" stroke-width="0.6"/>
<text x="589.4" y="204.6" text-anchor="middle" dy="0.35em" font-size="6.2" fill="#4d4d4d" stroke="#4d4d4d" stroke-width="0.19">1.5</text>
<line x1="629.45" y1="198.5" x2="629.45" y2="200.3" stroke="#444" stroke-width="0.6"/>
<text x="629.45" y="204.6" text-anchor="middle" dy="0.35em" font-size="6.2" fill="#4d4d4d" stroke="#4d4d4d" stroke-width="0.19">2.0</text>
<text x="570.9" y="213.2" text-anchor="middle" dy="0.35em" font-size="7.2" fill="#111" stroke="#111" stroke-width="0.22">HR</text>
<defs><linearGradient id="vir" x1="0" y1="1" x2="0" y2="0"><stop offset="0.0" stop-color="#440154"/><stop offset="0.1" stop-color="#482475"/><stop offset="0.2" stop-color="#414487"/><stop offset="0.3" stop-color="#355F8D"/><stop offset="0.4" stop-color="#2A788E"/><stop offset="0.5" stop-color="#21918C"/><stop offset="0.6" stop-color="#22A884"/><stop offset="0.7" stop-color="#44BF70"/><stop offset="0.8" stop-color="#7AD151"/><stop offset="0.9" stop-color="#BDDF26"/><stop offset="1.0" stop-color="#FDE725"/></linearGradient></defs>
<rect x="655.1" y="85" width="11.9" height="61.5" fill="url(#vir)"/>
<line x1="655.1" y1="98.8" x2="657.5" y2="98.8" stroke="#fff" stroke-width="0.6"/>
<line x1="664.6" y1="98.8" x2="667" y2="98.8" stroke="#fff" stroke-width="0.6"/>
<text x="669.8" y="98.8" text-anchor="start" dy="0.35em" font-size="5.9" fill="#222" stroke="#222" stroke-width="0.18">0.025</text>
<line x1="655.1" y1="111.4" x2="657.5" y2="111.4" stroke="#fff" stroke-width="0.6"/>
<line x1="664.6" y1="111.4" x2="667" y2="111.4" stroke="#fff" stroke-width="0.6"/>
<text x="669.8" y="111.4" text-anchor="start" dy="0.35em" font-size="5.9" fill="#222" stroke="#222" stroke-width="0.18">0.020</text>
<line x1="655.1" y1="123.8" x2="657.5" y2="123.8" stroke="#fff" stroke-width="0.6"/>
<line x1="664.6" y1="123.8" x2="667" y2="123.8" stroke="#fff" stroke-width="0.6"/>
<text x="669.8" y="123.8" text-anchor="start" dy="0.35em" font-size="5.9" fill="#222" stroke="#222" stroke-width="0.18">0.015</text>
<line x1="655.1" y1="136.9" x2="657.5" y2="136.9" stroke="#fff" stroke-width="0.6"/>
<line x1="664.6" y1="136.9" x2="667" y2="136.9" stroke="#fff" stroke-width="0.6"/>
<text x="669.8" y="136.9" text-anchor="start" dy="0.35em" font-size="5.9" fill="#222" stroke="#222" stroke-width="0.18">0.010</text>
<text x="655.1" y="77.7" text-anchor="start" dy="0.35em" font-size="7.1" fill="#111" stroke="#111" stroke-width="0.21">Pvalue</text>
<text x="43.8" y="258.7" text-anchor="start" dy="0.35em" font-size="6" fill="#111" stroke="#111" stroke-width="0.18">Distribution</text>
<line x1="43.6" y1="264.3" x2="43.6" y2="344.6" stroke="#1a1a1a" stroke-width="0.9"/>
<line x1="43.6" y1="344.4" x2="224.6" y2="344.4" stroke="#1a1a1a" stroke-width="0.9"/>
<line x1="42.2" y1="264.8" x2="43.9" y2="264.8" stroke="#111" stroke-width="0.6"/>
<text x="41.6" y="264.8" text-anchor="end" dy="0.35em" font-size="4.6" fill="#222" stroke="#222" stroke-width="0.14">1000</text>
<line x1="42.2" y1="283.77" x2="43.9" y2="283.77" stroke="#111" stroke-width="0.6"/>
<text x="41.6" y="283.77" text-anchor="end" dy="0.35em" font-size="4.6" fill="#222" stroke="#222" stroke-width="0.14">750</text>
<line x1="42.2" y1="302.75" x2="43.9" y2="302.75" stroke="#111" stroke-width="0.6"/>
<text x="41.6" y="302.75" text-anchor="end" dy="0.35em" font-size="4.6" fill="#222" stroke="#222" stroke-width="0.14">500</text>
<line x1="42.2" y1="321.72" x2="43.9" y2="321.72" stroke="#111" stroke-width="0.6"/>
<text x="41.6" y="321.72" text-anchor="end" dy="0.35em" font-size="4.6" fill="#222" stroke="#222" stroke-width="0.14">250</text>
<line x1="42.2" y1="340.7" x2="43.9" y2="340.7" stroke="#111" stroke-width="0.6"/>
<text x="41.6" y="340.7" text-anchor="end" dy="0.35em" font-size="4.6" fill="#222" stroke="#222" stroke-width="0.14">0</text>
<line x1="87.2" y1="344.2" x2="87.2" y2="345.9" stroke="#111" stroke-width="0.6"/>
<text x="87.2" y="347.8" text-anchor="middle" dy="0.35em" font-size="4.6" fill="#222" stroke="#222" stroke-width="0.14">0.5</text>
<line x1="148" y1="344.2" x2="148" y2="345.9" stroke="#111" stroke-width="0.6"/>
<text x="148" y="347.8" text-anchor="middle" dy="0.35em" font-size="4.6" fill="#222" stroke="#222" stroke-width="0.14">0.6</text>
<line x1="208.8" y1="344.2" x2="208.8" y2="345.9" stroke="#111" stroke-width="0.6"/>
<text x="208.8" y="347.8" text-anchor="middle" dy="0.35em" font-size="4.6" fill="#222" stroke="#222" stroke-width="0.14">0.7</text>
<text transform="translate(29.2,301.8) rotate(-90)" text-anchor="middle" dy="0.35em" font-size="7.1" fill="#111" stroke="#111" stroke-width="0.21">Density</text>
<polyline points="56.3,325.6 57.65,324.74 58.99,323.9 60.34,323.09 61.69,322.3 63.04,321.55 64.38,320.82 65.73,320.13 67.08,319.5 68.42,318.9 69.77,318.32 71.12,317.72 72.46,317.07 73.81,316.37 75.16,315.65 76.51,314.89 77.85,314.11 79.2,313.28 80.55,312.42 81.89,311.5 83.24,310.48 84.59,309.32 85.94,308.1 87.28,306.89 88.63,305.77 89.98,304.81 91.32,303.93 92.67,303 94.02,302.1 95.36,301.28 96.71,300.61 98.06,300.13 99.41,299.91 100.75,299.9 102.1,299.9 103.45,299.9 104.79,299.9 106.14,299.9 107.49,299.9 108.84,299.9 110.18,299.91 111.53,299.96 112.88,300.06 114.22,300.19 115.57,300.35 116.92,300.52 118.26,300.69 119.61,300.86 120.96,301.02 122.31,301.16 123.65,301.32 125,301.49 126.35,301.67 127.69,301.84 129.04,302 130.39,302.14 131.74,302.24 133.08,302.29 134.43,302.3 135.78,302.3 137.12,302.3 138.47,302.3 139.82,302.3 141.16,302.3 142.51,302.3 143.86,302.31 145.21,302.53 146.55,303.02 147.9,303.71 149.25,304.51 150.59,305.55 151.94,307.23 153.29,309.33 154.64,311.59 155.98,313.74 157.33,315.94 158.68,318.27 160.02,320.63 161.37,322.93 162.72,325.08 164.06,327.08 165.41,329.09 166.76,331.03 168.11,332.8 169.45,334.33 170.8,335.53 172.15,336.61 173.49,337.61 174.84,338.47 176.19,339.14 177.54,339.57 178.88,339.81 180.23,340.02 181.58,340.21 182.92,340.36 184.27,340.48 185.62,340.56 186.96,340.6 188.31,340.6 189.66,340.6 191.01,340.6 192.35,340.6 193.7,340.6 195.05,340.6 196.39,340.6 197.74,340.6 199.09,340.6 200.44,340.6 201.78,340.6 203.13,340.6 204.48,340.6 205.82,340.6 207.17,340.6 208.52,340.6 209.86,340.6 211.21,340.6 212.56,340.6 213.91,340.6 215.25,340.6 216.6,340.6" fill="none" stroke="#5bbcdc" stroke-width="0.9" stroke-linejoin="round"/>
<polyline points="142.3,340.5 143.04,340.39 143.78,340.09 144.52,339.61 145.25,338.99 145.99,338.24 146.73,337.38 147.47,336.45 148.21,335.46 148.95,334.3 149.68,332.65 150.42,330.59 151.16,328.22 151.9,325.66 152.64,322.99 153.38,320.33 154.11,317.41 154.85,314.13 155.59,310.65 156.33,307.08 157.07,303.59 157.81,300.31 158.54,297.34 159.28,294.45 160.02,291.62 160.76,288.9 161.5,286.33 162.24,283.94 162.97,281.77 163.71,279.73 164.45,277.71 165.19,275.78 165.93,274.02 166.67,272.5 167.41,271.3 168.14,270.45 168.88,269.73 169.62,269.06 170.36,268.47 171.1,268 171.84,267.67 172.57,267.51 173.31,267.6 174.05,268.04 174.79,268.75 175.53,269.62 176.27,270.53 177,271.56 177.74,272.89 178.48,274.47 179.22,276.22 179.96,278.07 180.7,279.93 181.43,281.74 182.17,283.42 182.91,284.95 183.65,286.52 184.39,288.1 185.13,289.62 185.86,291.03 186.6,292.26 187.34,293.24 188.08,294 188.82,294.68 189.56,295.29 190.29,295.84 191.03,296.34 191.77,296.82 192.51,297.28 193.25,297.74 193.99,298.22 194.73,298.72 195.46,299.21 196.2,299.68 196.94,300.12 197.68,300.55 198.42,300.99 199.16,301.44 199.89,301.93 200.63,302.46 201.37,303.05 202.11,303.7 202.85,304.46 203.59,305.34 204.32,306.31 205.06,307.37 205.8,308.5 206.54,309.7 207.28,310.94 208.02,312.22 208.75,313.53 209.49,314.85 210.23,316.23 210.97,317.7 211.71,319.25 212.45,320.86 213.18,322.54 213.92,324.27 214.66,326.06 215.4,327.9" fill="none" stroke="#e4473d" stroke-width="0.9" stroke-linejoin="round"/>
<line x1="51.9" y1="340.7" x2="216.6" y2="340.7" stroke="#1e1e1e" stroke-width="1.1"/>
<line x1="51.9" y1="340.7" x2="56.3" y2="340.7" stroke="#999" stroke-width="1.1"/>
<line x1="56.3" y1="340.7" x2="142.3" y2="340.7" stroke="#e4473d" stroke-width="1.1" stroke-opacity="0.55"/>
<line x1="178" y1="340.7" x2="216.6" y2="340.7" stroke="#5bbcdc" stroke-width="1.1" stroke-opacity="0.6"/>
<text x="43.9" y="356.1" text-anchor="start" dy="0.35em" font-size="6" fill="#111" stroke="#111" stroke-width="0.18">Maximally Selected Rank Statistics</text>
<line x1="43.5" y1="361.3" x2="43.5" y2="436.8" stroke="#1a1a1a" stroke-width="0.9"/>
<line x1="43.5" y1="436.5" x2="200" y2="436.5" stroke="#1a1a1a" stroke-width="0.9"/>
<line x1="41.8" y1="432.8" x2="43.5" y2="432.8" stroke="#111" stroke-width="0.6"/>
<text x="40.8" y="432.8" text-anchor="middle" dy="0.35em" font-size="4.6" fill="#222" stroke="#222" stroke-width="0.14">0</text>
<line x1="41.8" y1="417.45" x2="43.5" y2="417.45" stroke="#111" stroke-width="0.6"/>
<text x="40.8" y="417.45" text-anchor="middle" dy="0.35em" font-size="4.6" fill="#222" stroke="#222" stroke-width="0.14">1</text>
<line x1="41.8" y1="402.1" x2="43.5" y2="402.1" stroke="#111" stroke-width="0.6"/>
<text x="40.8" y="402.1" text-anchor="middle" dy="0.35em" font-size="4.6" fill="#222" stroke="#222" stroke-width="0.14">2</text>
<line x1="41.8" y1="386.75" x2="43.5" y2="386.75" stroke="#111" stroke-width="0.6"/>
<text x="40.8" y="386.75" text-anchor="middle" dy="0.35em" font-size="4.6" fill="#222" stroke="#222" stroke-width="0.14">3</text>
<line x1="41.8" y1="371.4" x2="43.5" y2="371.4" stroke="#111" stroke-width="0.6"/>
<text x="40.8" y="371.4" text-anchor="middle" dy="0.35em" font-size="4.6" fill="#222" stroke="#222" stroke-width="0.14">4</text>
<line x1="51.4" y1="436.3" x2="51.4" y2="438" stroke="#111" stroke-width="0.6"/>
<text x="51.4" y="440.8" text-anchor="middle" dy="0.35em" font-size="4.6" fill="#222" stroke="#222" stroke-width="0.14">0.45</text>
<line x1="78.8" y1="436.3" x2="78.8" y2="438" stroke="#111" stroke-width="0.6"/>
<text x="78.8" y="440.8" text-anchor="middle" dy="0.35em" font-size="4.6" fill="#222" stroke="#222" stroke-width="0.14">0.50</text>
<line x1="106.2" y1="436.3" x2="106.2" y2="438" stroke="#111" stroke-width="0.6"/>
<text x="106.2" y="440.8" text-anchor="middle" dy="0.35em" font-size="4.6" fill="#222" stroke="#222" stroke-width="0.14">0.55</text>
<line x1="133.6" y1="436.3" x2="133.6" y2="438" stroke="#111" stroke-width="0.6"/>
<text x="133.6" y="440.8" text-anchor="middle" dy="0.35em" font-size="4.6" fill="#222" stroke="#222" stroke-width="0.14">0.60</text>
<line x1="161" y1="436.3" x2="161" y2="438" stroke="#111" stroke-width="0.6"/>
<text x="161" y="440.8" text-anchor="middle" dy="0.35em" font-size="4.6" fill="#222" stroke="#222" stroke-width="0.14">0.65</text>
<line x1="188.4" y1="436.3" x2="188.4" y2="438" stroke="#111" stroke-width="0.6"/>
<text x="188.4" y="440.8" text-anchor="middle" dy="0.35em" font-size="4.6" fill="#222" stroke="#222" stroke-width="0.14">0.70</text>
<text x="125.3" y="449.5" text-anchor="middle" dy="0.35em" font-size="7.1" fill="#111" stroke="#111" stroke-width="0.21">Riskscore</text>
<text transform="translate(25.3,400.4) rotate(-90)" text-anchor="middle" dy="0.35em" font-size="7.1" fill="#111" stroke="#111" stroke-width="0.21">Standardized Log−Rank</text>
<text transform="translate(33.8,399) rotate(-90)" text-anchor="middle" dy="0.35em" font-size="7.1" fill="#111" stroke="#111" stroke-width="0.21">Statistic</text>
<line x1="138.7" y1="364.3" x2="138.7" y2="433" stroke="#222" stroke-width="0.6" stroke-dasharray="1.2,1.2"/>
<text x="138.6" y="425.4" text-anchor="middle" dy="0.35em" font-size="4.5" fill="#111" stroke="#111" stroke-width="0.13">Cutpoint: 0.61</text>
<g fill="#4cb3d6"><circle cx="50.8" cy="403.2" r="0.65"/><circle cx="51.5" cy="399.6" r="0.65"/><circle cx="52.2" cy="396" r="0.65"/><circle cx="52.9" cy="393.1" r="0.65"/><circle cx="53.9" cy="394.5" r="0.65"/><circle cx="56.5" cy="398.1" r="0.65"/><circle cx="57.9" cy="400.7" r="0.65"/><circle cx="60.8" cy="397.4" r="0.65"/><circle cx="63" cy="394.1" r="0.65"/><circle cx="64.4" cy="391.7" r="0.65"/><circle cx="68.7" cy="388.4" r="0.65"/><circle cx="70.2" cy="391.7" r="0.65"/><circle cx="71.2" cy="389.1" r="0.65"/><circle cx="73.8" cy="385.9" r="0.65"/><circle cx="75.9" cy="383" r="0.65"/><circle cx="76.6" cy="384.5" r="0.65"/><circle cx="76.3" cy="387.3" r="0.65"/><circle cx="79.9" cy="381.3" r="0.65"/><circle cx="81.7" cy="381.3" r="0.65"/><circle cx="81.7" cy="384.5" r="0.65"/><circle cx="84.5" cy="381.6" r="0.65"/><circle cx="84.5" cy="384.5" r="0.65"/><circle cx="86.7" cy="382.6" r="0.65"/><circle cx="87.4" cy="385.5" r="0.65"/><circle cx="88.8" cy="385.9" r="0.65"/><circle cx="90.3" cy="384.5" r="0.65"/><circle cx="91.7" cy="381.6" r="0.65"/><circle cx="92.4" cy="385.9" r="0.65"/><circle cx="93.9" cy="389.5" r="0.65"/><circle cx="95.3" cy="388.8" r="0.65"/><circle cx="96" cy="386.3" r="0.65"/><circle cx="97" cy="383.8" r="0.65"/><circle cx="99.3" cy="380.9" r="0.65"/><circle cx="99.6" cy="378.3" r="0.65"/><circle cx="101.8" cy="379.7" r="0.65"/><circle cx="102.5" cy="383" r="0.65"/><circle cx="104.7" cy="383.8" r="0.65"/><circle cx="106.1" cy="386.3" r="0.65"/><circle cx="106.8" cy="389.5" r="0.65"/><circle cx="108.3" cy="384.5" r="0.65"/><circle cx="109.7" cy="386.6" r="0.65"/><circle cx="111.1" cy="388.1" r="0.65"/><circle cx="112.6" cy="385.9" r="0.65"/><circle cx="113.7" cy="383.8" r="0.65"/><circle cx="114.7" cy="380.9" r="0.65"/><circle cx="116.9" cy="378.3" r="0.65"/><circle cx="119.8" cy="375.1" r="0.65"/><circle cx="121.9" cy="373.4" r="0.65"/><circle cx="123.8" cy="376.3" r="0.65"/><circle cx="126.2" cy="373.4" r="0.65"/><circle cx="128.4" cy="376.6" r="0.65"/><circle cx="129.8" cy="379.2" r="0.65"/><circle cx="131.3" cy="376.6" r="0.65"/><circle cx="132" cy="373.7" r="0.65"/><circle cx="133.4" cy="370.8" r="0.65"/><circle cx="134.1" cy="369.4" r="0.65"/><circle cx="126.4" cy="373.4" r="0.65"/><circle cx="127.9" cy="376.6" r="0.65"/><circle cx="129.3" cy="378.7" r="0.65"/><circle cx="130.8" cy="376.6" r="0.65"/><circle cx="132.2" cy="373.7" r="0.65"/><circle cx="132.9" cy="371.5" r="0.65"/><circle cx="133.6" cy="369.4" r="0.65"/><circle cx="134.3" cy="370.8" r="0.65"/><circle cx="135.1" cy="373" r="0.65"/><circle cx="135.8" cy="369.4" r="0.65"/><circle cx="136.5" cy="371.5" r="0.65"/><circle cx="137.2" cy="368.7" r="0.65"/><circle cx="137.9" cy="367.2" r="0.65"/><circle cx="138.7" cy="364.3" r="0.65"/></g>
<g fill="#e4473d"><circle cx="141.5" cy="366.5" r="0.65"/><circle cx="142" cy="368.7" r="0.65"/><circle cx="143" cy="370.8" r="0.65"/><circle cx="144.4" cy="370.1" r="0.65"/><circle cx="145.8" cy="368.7" r="0.65"/><circle cx="146.6" cy="367.7" r="0.65"/><circle cx="148" cy="370.1" r="0.65"/><circle cx="149.4" cy="370.8" r="0.65"/><circle cx="150.9" cy="369.4" r="0.65"/><circle cx="151.6" cy="370.8" r="0.65"/><circle cx="152.3" cy="373" r="0.65"/><circle cx="150.2" cy="373" r="0.65"/><circle cx="152.6" cy="375.1" r="0.65"/><circle cx="153.8" cy="379.4" r="0.65"/><circle cx="154.5" cy="381.6" r="0.65"/><circle cx="155.2" cy="383" r="0.65"/><circle cx="155.9" cy="380.9" r="0.65"/><circle cx="157.3" cy="385.2" r="0.65"/><circle cx="157.3" cy="382.3" r="0.65"/><circle cx="158.8" cy="375.8" r="0.65"/><circle cx="159.5" cy="378" r="0.65"/><circle cx="160.2" cy="380.2" r="0.65"/><circle cx="161.7" cy="383" r="0.65"/><circle cx="163.1" cy="385.2" r="0.65"/><circle cx="163.8" cy="385.9" r="0.65"/><circle cx="165.3" cy="383" r="0.65"/><circle cx="166.7" cy="383.8" r="0.65"/><circle cx="167.4" cy="384.5" r="0.65"/><circle cx="169.6" cy="376.6" r="0.65"/><circle cx="170.3" cy="378.7" r="0.65"/><circle cx="171" cy="380.9" r="0.65"/><circle cx="172.4" cy="385.2" r="0.65"/><circle cx="173.2" cy="383" r="0.65"/><circle cx="173.9" cy="380.9" r="0.65"/><circle cx="174.6" cy="378" r="0.65"/><circle cx="175.3" cy="380.2" r="0.65"/><circle cx="176" cy="382.3" r="0.65"/><circle cx="177.5" cy="384.5" r="0.65"/><circle cx="179.6" cy="386.6" r="0.65"/><circle cx="181.8" cy="388.1" r="0.65"/><circle cx="182.2" cy="390.2" r="0.65"/><circle cx="182.5" cy="387.3" r="0.65"/><circle cx="183.2" cy="393.1" r="0.65"/><circle cx="186.1" cy="396" r="0.65"/><circle cx="186.8" cy="399.6" r="0.65"/><circle cx="188.3" cy="402.4" r="0.65"/><circle cx="193.3" cy="397.4" r="0.65"/></g>
<text x="207" y="369.3" text-anchor="start" dy="0.35em" font-size="5.6" fill="#111" stroke="#111" stroke-width="0.17">grps</text>
<circle cx="210.2" cy="376.8" r="0.6" fill="#e4473d"/><circle cx="210.2" cy="383.9" r="0.6" fill="#4cb3d6"/>
<text x="216.1" y="376.8" text-anchor="start" dy="0.35em" font-size="5" fill="#111" stroke="#111" stroke-width="0.15">high</text>
<text x="216.1" y="383.9" text-anchor="start" dy="0.35em" font-size="5" fill="#111" stroke="#111" stroke-width="0.15">low</text>
<line x1="266.5" y1="429.8" x2="482.6" y2="429.8" stroke="#e2e2e2" stroke-width="0.9"/>
<line x1="266.5" y1="395.9" x2="482.6" y2="395.9" stroke="#e2e2e2" stroke-width="0.9"/>
<line x1="266.5" y1="362" x2="482.6" y2="362" stroke="#e2e2e2" stroke-width="0.9"/>
<line x1="266.5" y1="328.1" x2="482.6" y2="328.1" stroke="#e2e2e2" stroke-width="0.9"/>
<line x1="266.5" y1="294.2" x2="482.6" y2="294.2" stroke="#e2e2e2" stroke-width="0.9"/>
<line x1="266.5" y1="412.85" x2="482.6" y2="412.85" stroke="#ececec" stroke-width="0.6"/>
<line x1="266.5" y1="378.95" x2="482.6" y2="378.95" stroke="#ececec" stroke-width="0.6"/>
<line x1="266.5" y1="345.05" x2="482.6" y2="345.05" stroke="#ececec" stroke-width="0.6"/>
<line x1="266.5" y1="311.15" x2="482.6" y2="311.15" stroke="#ececec" stroke-width="0.6"/>
<line x1="266.5" y1="277.25" x2="482.6" y2="277.25" stroke="#ececec" stroke-width="0.6"/>
<line x1="281.7" y1="270.4" x2="281.7" y2="436.3" stroke="#e2e2e2" stroke-width="0.9"/>
<line x1="308.15" y1="270.4" x2="308.15" y2="436.3" stroke="#e2e2e2" stroke-width="0.9"/>
<line x1="334.6" y1="270.4" x2="334.6" y2="436.3" stroke="#e2e2e2" stroke-width="0.9"/>
<line x1="361.05" y1="270.4" x2="361.05" y2="436.3" stroke="#e2e2e2" stroke-width="0.9"/>
<line x1="387.5" y1="270.4" x2="387.5" y2="436.3" stroke="#e2e2e2" stroke-width="0.9"/>
<line x1="413.95" y1="270.4" x2="413.95" y2="436.3" stroke="#e2e2e2" stroke-width="0.9"/>
<line x1="440.4" y1="270.4" x2="440.4" y2="436.3" stroke="#e2e2e2" stroke-width="0.9"/>
<line x1="466.85" y1="270.4" x2="466.85" y2="436.3" stroke="#e2e2e2" stroke-width="0.9"/>
<line x1="278.5" y1="312" x2="278.5" y2="331.3" stroke="#3a3a3a" stroke-width="0.65"/>
<line x1="278.5" y1="346.5" x2="278.5" y2="362.7" stroke="#3a3a3a" stroke-width="0.65"/>
<rect x="275.45" y="331.3" width="6.1" height="15.2" fill="#3270b8" stroke="#2a2a2a" stroke-width="0.6"/>
<line x1="275.45" y1="338" x2="281.55" y2="338" stroke="#222" stroke-width="1"/>
<line x1="284.9" y1="327.3" x2="284.9" y2="346.2" stroke="#3a3a3a" stroke-width="0.65"/>
<line x1="284.9" y1="360.4" x2="284.9" y2="382" stroke="#3a3a3a" stroke-width="0.65"/>
<rect x="281.85" y="346.2" width="6.1" height="14.2" fill="#f07066" stroke="#2a2a2a" stroke-width="0.6"/>
<line x1="281.85" y1="352.2" x2="287.95" y2="352.2" stroke="#222" stroke-width="1"/>
<line x1="304.95" y1="285.1" x2="304.95" y2="292.1" stroke="#3a3a3a" stroke-width="0.65"/>
<line x1="304.95" y1="298.6" x2="304.95" y2="306.5" stroke="#3a3a3a" stroke-width="0.65"/>
<rect x="301.9" y="292.1" width="6.1" height="6.5" fill="#3270b8" stroke="#2a2a2a" stroke-width="0.6"/>
<line x1="301.9" y1="295.2" x2="308" y2="295.2" stroke="#222" stroke-width="1"/>
<circle cx="304.95" cy="307.6" r="1.4" fill="#2a2a2a"/>
<circle cx="304.95" cy="309.5" r="1.4" fill="#2a2a2a"/>
<circle cx="304.95" cy="311" r="1.4" fill="#2a2a2a"/>
<circle cx="304.95" cy="312.6" r="1.4" fill="#2a2a2a"/>
<circle cx="304.95" cy="314.2" r="1.4" fill="#2a2a2a"/>
<circle cx="304.95" cy="315.3" r="1.4" fill="#2a2a2a"/>
<line x1="311.35" y1="290.2" x2="311.35" y2="298.4" stroke="#3a3a3a" stroke-width="0.65"/>
<line x1="311.35" y1="311.4" x2="311.35" y2="323.5" stroke="#3a3a3a" stroke-width="0.65"/>
<rect x="308.3" y="298.4" width="6.1" height="13" fill="#f07066" stroke="#2a2a2a" stroke-width="0.6"/>
<line x1="308.3" y1="303.2" x2="314.4" y2="303.2" stroke="#222" stroke-width="1"/>
<circle cx="311.35" cy="331.1" r="1.4" fill="#2a2a2a"/>
<line x1="331.4" y1="300.5" x2="331.4" y2="323.1" stroke="#3a3a3a" stroke-width="0.65"/>
<line x1="331.4" y1="357.5" x2="331.4" y2="395.9" stroke="#3a3a3a" stroke-width="0.65"/>
<rect x="328.35" y="323.1" width="6.1" height="34.4" fill="#3270b8" stroke="#2a2a2a" stroke-width="0.6"/>
<line x1="328.35" y1="336" x2="334.45" y2="336" stroke="#222" stroke-width="1"/>
<line x1="337.8" y1="305.4" x2="337.8" y2="352.2" stroke="#3a3a3a" stroke-width="0.65"/>
<line x1="337.8" y1="385.3" x2="337.8" y2="405.2" stroke="#3a3a3a" stroke-width="0.65"/>
<rect x="334.75" y="352.2" width="6.1" height="33.1" fill="#f07066" stroke="#2a2a2a" stroke-width="0.6"/>
<line x1="334.75" y1="369.8" x2="340.85" y2="369.8" stroke="#222" stroke-width="1"/>
<line x1="357.85" y1="285.9" x2="357.85" y2="301" stroke="#3a3a3a" stroke-width="0.65"/>
<line x1="357.85" y1="322.6" x2="357.85" y2="350.7" stroke="#3a3a3a" stroke-width="0.65"/>
<rect x="354.8" y="301" width="6.1" height="21.6" fill="#3270b8" stroke="#2a2a2a" stroke-width="0.6"/>
<line x1="354.8" y1="309.8" x2="360.9" y2="309.8" stroke="#222" stroke-width="1"/>
<line x1="364.25" y1="293.9" x2="364.25" y2="314.2" stroke="#3a3a3a" stroke-width="0.65"/>
<line x1="364.25" y1="348.5" x2="364.25" y2="367.3" stroke="#3a3a3a" stroke-width="0.65"/>
<rect x="361.2" y="314.2" width="6.1" height="34.3" fill="#f07066" stroke="#2a2a2a" stroke-width="0.6"/>
<line x1="361.2" y1="329.7" x2="367.3" y2="329.7" stroke="#222" stroke-width="1"/>
<line x1="384.3" y1="282.2" x2="384.3" y2="298.1" stroke="#3a3a3a" stroke-width="0.65"/>
<line x1="384.3" y1="309.8" x2="384.3" y2="324.2" stroke="#3a3a3a" stroke-width="0.65"/>
<rect x="381.25" y="298.1" width="6.1" height="11.7" fill="#3270b8" stroke="#2a2a2a" stroke-width="0.6"/>
<line x1="381.25" y1="302.5" x2="387.35" y2="302.5" stroke="#222" stroke-width="1"/>
<circle cx="384.3" cy="329.3" r="1.4" fill="#2a2a2a"/>
<circle cx="384.3" cy="335.9" r="1.4" fill="#2a2a2a"/>
<line x1="390.7" y1="278.2" x2="390.7" y2="288.4" stroke="#3a3a3a" stroke-width="0.65"/>
<line x1="390.7" y1="300.5" x2="390.7" y2="316.4" stroke="#3a3a3a" stroke-width="0.65"/>
<rect x="387.65" y="288.4" width="6.1" height="12.1" fill="#f07066" stroke="#2a2a2a" stroke-width="0.6"/>
<line x1="387.65" y1="292.8" x2="393.75" y2="292.8" stroke="#222" stroke-width="1"/>
<line x1="410.75" y1="392.4" x2="410.75" y2="400.8" stroke="#3a3a3a" stroke-width="0.65"/>
<line x1="410.75" y1="409.7" x2="410.75" y2="420.7" stroke="#3a3a3a" stroke-width="0.65"/>
<rect x="407.7" y="400.8" width="6.1" height="8.9" fill="#3270b8" stroke="#2a2a2a" stroke-width="0.6"/>
<line x1="407.7" y1="406.3" x2="413.8" y2="406.3" stroke="#222" stroke-width="1"/>
<circle cx="410.75" cy="374.3" r="1.4" fill="#2a2a2a"/>
<circle cx="410.75" cy="385.3" r="1.4" fill="#2a2a2a"/>
<circle cx="410.75" cy="387.1" r="1.4" fill="#2a2a2a"/>
<line x1="417.15" y1="399" x2="417.15" y2="407" stroke="#3a3a3a" stroke-width="0.65"/>
<line x1="417.15" y1="415.6" x2="417.15" y2="423.4" stroke="#3a3a3a" stroke-width="0.65"/>
<rect x="414.1" y="407" width="6.1" height="8.6" fill="#f07066" stroke="#2a2a2a" stroke-width="0.6"/>
<line x1="414.1" y1="411.4" x2="420.2" y2="411.4" stroke="#222" stroke-width="1"/>
<line x1="437.2" y1="318.2" x2="437.2" y2="327.5" stroke="#3a3a3a" stroke-width="0.65"/>
<line x1="437.2" y1="335.7" x2="437.2" y2="344.1" stroke="#3a3a3a" stroke-width="0.65"/>
<rect x="434.15" y="327.5" width="6.1" height="8.2" fill="#3270b8" stroke="#2a2a2a" stroke-width="0.6"/>
<line x1="434.15" y1="332.6" x2="440.25" y2="332.6" stroke="#222" stroke-width="1"/>
<circle cx="437.2" cy="315.3" r="1.4" fill="#2a2a2a"/>
<circle cx="437.2" cy="347.8" r="1.4" fill="#2a2a2a"/>
<circle cx="437.2" cy="354.3" r="1.4" fill="#2a2a2a"/>
<line x1="443.6" y1="307.6" x2="443.6" y2="322" stroke="#3a3a3a" stroke-width="0.65"/>
<line x1="443.6" y1="331.5" x2="443.6" y2="344.1" stroke="#3a3a3a" stroke-width="0.65"/>
<rect x="440.55" y="322" width="6.1" height="9.5" fill="#f07066" stroke="#2a2a2a" stroke-width="0.6"/>
<line x1="440.55" y1="324.8" x2="446.65" y2="324.8" stroke="#222" stroke-width="1"/>
<line x1="463.65" y1="336.3" x2="463.65" y2="356.7" stroke="#3a3a3a" stroke-width="0.65"/>
<line x1="463.65" y1="380.9" x2="463.65" y2="409.7" stroke="#3a3a3a" stroke-width="0.65"/>
<rect x="460.6" y="356.7" width="6.1" height="24.2" fill="#3270b8" stroke="#2a2a2a" stroke-width="0.6"/>
<line x1="460.6" y1="369.4" x2="466.7" y2="369.4" stroke="#222" stroke-width="1"/>
<circle cx="463.65" cy="418.1" r="1.4" fill="#2a2a2a"/>
<circle cx="463.65" cy="428.5" r="1.4" fill="#2a2a2a"/>
<line x1="470.05" y1="310.9" x2="470.05" y2="342" stroke="#3a3a3a" stroke-width="0.65"/>
<line x1="470.05" y1="366.1" x2="470.05" y2="394.8" stroke="#3a3a3a" stroke-width="0.65"/>
<rect x="467" y="342" width="6.1" height="24.1" fill="#f07066" stroke="#2a2a2a" stroke-width="0.6"/>
<line x1="467" y1="355" x2="473.1" y2="355" stroke="#222" stroke-width="1"/>
<circle cx="470.05" cy="405.5" r="1.4" fill="#2a2a2a"/>
<rect x="266.5" y="270.4" width="216.1" height="165.9" fill="none" stroke="#333" stroke-width="0.8"/>
<line x1="266.5" y1="270.4" x2="266.5" y2="437" stroke="#7c7c7c" stroke-width="1.5"/>
<line x1="265.8" y1="436.3" x2="482.6" y2="436.3" stroke="#7c7c7c" stroke-width="1.3"/>
<text x="281.7" y="279.3" text-anchor="middle" font-size="7.2" fill="#222" stroke="#222" stroke-width="0.45">****</text>
<text x="308.15" y="279.3" text-anchor="middle" font-size="7.2" fill="#222" stroke="#222" stroke-width="0.45">****</text>
<text x="334.6" y="279.3" text-anchor="middle" font-size="7.2" fill="#222" stroke="#222" stroke-width="0.45">****</text>
<text x="361.05" y="279.3" text-anchor="middle" font-size="7.2" fill="#222" stroke="#222" stroke-width="0.45">****</text>
<text x="387.5" y="279.3" text-anchor="middle" font-size="7.2" fill="#222" stroke="#222" stroke-width="0.45">****</text>
<text x="413.95" y="279.3" text-anchor="middle" font-size="7.2" fill="#222" stroke="#222" stroke-width="0.45">****</text>
<text x="440.4" y="279.3" text-anchor="middle" font-size="7.2" fill="#222" stroke="#222" stroke-width="0.45">****</text>
<text x="466.85" y="279.3" text-anchor="middle" font-size="7.2" fill="#222" stroke="#222" stroke-width="0.45">****</text>
<line x1="264.7" y1="429.8" x2="266.5" y2="429.8" stroke="#333" stroke-width="0.6"/>
<text x="262.6" y="429.8" text-anchor="end" dy="0.35em" font-size="6" fill="#4d4d4d" stroke="#4d4d4d" stroke-width="0.18">5.0</text>
<line x1="264.7" y1="395.9" x2="266.5" y2="395.9" stroke="#333" stroke-width="0.6"/>
<text x="262.6" y="395.9" text-anchor="end" dy="0.35em" font-size="6" fill="#4d4d4d" stroke="#4d4d4d" stroke-width="0.18">7.5</text>
<line x1="264.7" y1="362" x2="266.5" y2="362" stroke="#333" stroke-width="0.6"/>
<text x="262.6" y="362" text-anchor="end" dy="0.35em" font-size="6" fill="#4d4d4d" stroke="#4d4d4d" stroke-width="0.18">10.0</text>
<line x1="264.7" y1="328.1" x2="266.5" y2="328.1" stroke="#333" stroke-width="0.6"/>
<text x="262.6" y="328.1" text-anchor="end" dy="0.35em" font-size="6" fill="#4d4d4d" stroke="#4d4d4d" stroke-width="0.18">12.5</text>
<line x1="264.7" y1="294.2" x2="266.5" y2="294.2" stroke="#333" stroke-width="0.6"/>
<text x="262.6" y="294.2" text-anchor="end" dy="0.35em" font-size="6" fill="#4d4d4d" stroke="#4d4d4d" stroke-width="0.18">15.0</text>
<line x1="281.7" y1="436.3" x2="281.7" y2="438.1" stroke="#333" stroke-width="0.6"/>
<text x="281.7" y="441.7" text-anchor="middle" dy="0.35em" font-size="6" fill="#333" stroke="#333" stroke-width="0.18">BARHL2</text>
<line x1="308.15" y1="436.3" x2="308.15" y2="438.1" stroke="#333" stroke-width="0.6"/>
<text x="308.15" y="441.7" text-anchor="middle" dy="0.35em" font-size="6" fill="#333" stroke="#333" stroke-width="0.18">SLC2A1</text>
<line x1="334.6" y1="436.3" x2="334.6" y2="438.1" stroke="#333" stroke-width="0.6"/>
<text x="334.6" y="441.7" text-anchor="middle" dy="0.35em" font-size="6" fill="#333" stroke="#333" stroke-width="0.18">CA9</text>
<line x1="361.05" y1="436.3" x2="361.05" y2="438.1" stroke="#333" stroke-width="0.6"/>
<text x="361.05" y="441.7" text-anchor="middle" dy="0.35em" font-size="6" fill="#333" stroke="#333" stroke-width="0.18">PDZK1IP1</text>
<line x1="387.5" y1="436.3" x2="387.5" y2="438.1" stroke="#333" stroke-width="0.6"/>
<text x="387.5" y="441.7" text-anchor="middle" dy="0.35em" font-size="6" fill="#333" stroke="#333" stroke-width="0.18">TIMP1</text>
<line x1="413.95" y1="436.3" x2="413.95" y2="438.1" stroke="#333" stroke-width="0.6"/>
<text x="413.95" y="441.7" text-anchor="middle" dy="0.35em" font-size="6" fill="#333" stroke="#333" stroke-width="0.18">MAGEC3</text>
<line x1="440.4" y1="436.3" x2="440.4" y2="438.1" stroke="#333" stroke-width="0.6"/>
<text x="440.4" y="441.7" text-anchor="middle" dy="0.35em" font-size="6" fill="#333" stroke="#333" stroke-width="0.18">KIF11</text>
<line x1="466.85" y1="436.3" x2="466.85" y2="438.1" stroke="#333" stroke-width="0.6"/>
<text x="466.85" y="441.7" text-anchor="middle" dy="0.35em" font-size="6" fill="#333" stroke="#333" stroke-width="0.18">KCNMA1</text>
<text transform="translate(245.6,354) rotate(-90)" text-anchor="middle" dy="0.35em" font-size="7" fill="#111" stroke="#111" stroke-width="0.21">Expression</text>
<text x="324.1" y="259.6" text-anchor="start" dy="0.35em" font-size="7.2" fill="#111" stroke="#111" stroke-width="0.22">Group</text>
<line x1="354.8" y1="255.2" x2="354.8" y2="264.3" stroke="#333" stroke-width="0.6"/>
<rect x="350" y="256.7" width="9.6" height="6.1" fill="#3270b8" stroke="#2a2a2a" stroke-width="0.6"/>
<line x1="350" y1="259.75" x2="359.6" y2="259.75" stroke="#222" stroke-width="0.9"/>
<text x="364.8" y="259.6" text-anchor="start" dy="0.35em" font-size="6" fill="#111" stroke="#111" stroke-width="0.18">lowrisk</text>
<line x1="393.2" y1="255.2" x2="393.2" y2="264.3" stroke="#333" stroke-width="0.6"/>
<rect x="388.4" y="256.7" width="9.6" height="6.1" fill="#f07066" stroke="#2a2a2a" stroke-width="0.6"/>
<line x1="388.4" y1="259.75" x2="398" y2="259.75" stroke="#222" stroke-width="0.9"/>
<text x="403.2" y="259.6" text-anchor="start" dy="0.35em" font-size="6" fill="#111" stroke="#111" stroke-width="0.18">highrisk</text>
</svg>
</body></html>
